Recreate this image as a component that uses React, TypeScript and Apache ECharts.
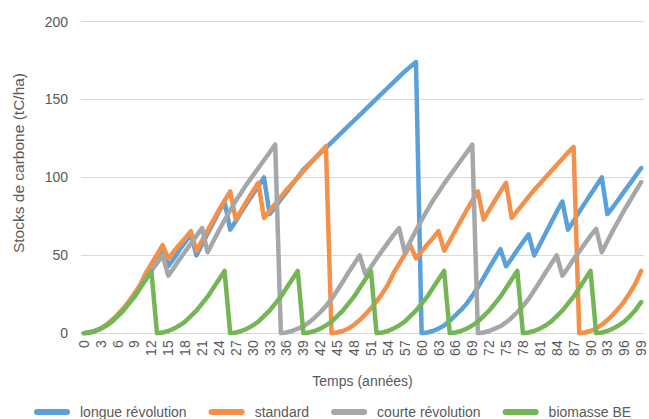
import React, { useEffect, useRef } from 'react';
import * as echarts from 'echarts';

const years: string[] = [
  '0','1','2','3','4','5','6','7','8','9','10','11','12','13','14','15','16','17','18','19',
  '20','21','22','23','24','25','26','27','28','29','30','31','32','33','34','35','36','37','38','39',
  '40','41','42','43','44','45','46','47','48','49','50','51','52','53','54','55','56','57','58','59',
  '60','61','62','63','64','65','66','67','68','69','70','71','72','73','74','75','76','77','78','79',
  '80','81','82','83','84','85','86','87','88','89','90','91','92','93','94','95','96','97','98','99',
];

const seriesNames = ['longue révolution', 'standard', 'courte révolution', 'biomasse BE'];
const yTitle = 'Stocks de carbone (tC/ha)';
const xTitle = 'Temps (années)';

const longueRevolution: number[] = [
  0, 0.5, 1.5, 3, 5, 8, 11.5, 15, 19.5, 24.5, 30, 36, 42, 48, 54,
  43, 48, 53.5, 58.5, 63.5,
  50, 57, 64, 71, 78, 84.5,
  66.5, 72, 78, 83.5, 89, 94.5, 100,
  76.5, 81, 86, 90.5, 95.5, 100, 105, 108.5, 112, 115.5, 119,
  122.5, 126, 129.5, 133, 136.5, 140, 143.5, 147, 150.5, 154, 157.5, 161, 164.5, 168, 171, 174,
  0, 0.5, 1.5, 3, 5, 8, 11.5, 15, 19, 24, 29.5, 35.5, 42, 48, 54,
  43, 48, 53.5, 58.5, 63.5,
  50, 57, 64, 71, 78, 84.5,
  66.5, 72, 78, 83.5, 89, 94.5, 100,
  76.5, 81, 86, 91, 96, 101, 106,
];

const standard: number[] = [
  0, 0.5, 1.5, 3, 5.5, 8.5, 12, 16, 20.5, 25.5, 31, 38.5, 44.5, 50.5, 56.5,
  48, 52.5, 57, 61, 65.5,
  53, 59.5, 66, 72.5, 79, 85, 91,
  73, 79, 85, 91, 96.5,
  74, 78.5, 83, 87.5, 92, 96, 100, 104, 108, 112, 116, 120,
  0, 0.5, 1.5, 3, 5.5, 8.5, 12, 16, 20.5, 25.5, 31, 38.5, 44.5, 50.5, 56.5,
  48, 52.5, 57, 61, 65.5,
  53, 59.5, 66, 72.5, 79, 85, 91,
  73, 79, 85, 91, 96.5,
  74, 78.5, 83, 87.5, 92, 96, 100, 104, 108, 112, 116, 119.5,
  0, 0.5, 1.5, 3, 5.5, 8.5, 12, 16, 20.5, 26, 32, 40,
];

const courteRevolution: number[] = [
  0, 0.5, 1.5, 3, 5, 7.5, 11, 14.5, 19, 23.5, 29, 34.5, 40, 45, 50,
  37, 42, 47.5, 52.5, 57.5, 62.5, 67.5,
  52, 59, 66, 72.5, 79, 85, 90.5, 96, 101, 106, 111, 116, 121,
  0, 0.5, 1.5, 3, 4.5, 7, 10, 13.5, 17.5, 22, 27.5, 33, 39, 44.5, 50,
  38, 42.5, 48, 53, 58, 63, 67.5,
  52, 59, 66, 72.5, 79, 85, 90.5, 96, 101, 106, 111, 116, 121,
  0, 0.5, 1.5, 3, 4.5, 7, 10, 13.5, 17.5, 22, 27.5, 33, 39, 44.5, 50,
  37, 42, 47.5, 52.5, 57.5, 62.5, 67,
  52, 59, 66, 72.5, 79, 85, 91, 97,
];

const biomasseBE: number[] = [
  0, 0.5, 1.5, 3, 5, 7.5, 11, 14.5, 19, 23.5, 29, 34.5, 40,
  0, 0.5, 1.5, 3, 5, 7.5, 11, 14.5, 19, 23.5, 29, 34.5, 40,
  0, 0.5, 1.5, 3, 5, 7.5, 11, 14.5, 19, 23.5, 29, 34.5, 40,
  0, 0.5, 1.5, 3, 5, 7.5, 11, 14.5, 19, 23.5, 29, 34.5, 40,
  0, 0.5, 1.5, 3, 5, 7.5, 11, 14.5, 19, 23.5, 29, 34.5, 40,
  0, 0.5, 1.5, 3, 5, 7.5, 11, 14.5, 19, 23.5, 29, 34.5, 40,
  0, 0.5, 1.5, 3, 5, 7.5, 11, 14.5, 19, 23.5, 29, 34.5, 40,
  0, 0.5, 1.5, 3, 5, 7.5, 11, 15, 20,
];

const colors = ['#5BA0D8', '#F5904A', '#A5A7A9', '#74B555'];
const FONT = '"Liberation Sans", Arial, sans-serif';
const CAPSULE = 'path://M3,0 L33,0 A3,3 0 0 1 33,6 L3,6 A3,3 0 0 1 3,0 Z';

export default function App() {
  const ref = useRef<HTMLDivElement>(null);

  useEffect(() => {
    if (!ref.current) return;
    const chart = echarts.init(ref.current, null, { renderer: 'svg' });
    const values = [longueRevolution, standard, courteRevolution, biomasseBE];
    chart.setOption({
      animation: false,
      backgroundColor: '#ffffff',
      color: colors,
      textStyle: { fontFamily: FONT },
      grid: { left: 81, right: 5, top: 21.5, bottom: 85.7, containLabel: false },
      graphic: [
        {
          type: 'text',
          x: 18,
          y: 163,
          rotation: Math.PI / 2,
          style: {
            text: yTitle,
            fontSize: 15.5,
            fontFamily: FONT,
            fill: '#595959',
            align: 'center',
            verticalAlign: 'middle',
          },
        },
      ],
      legend: {
        data: seriesNames,
        left: 29,
        top: 400,
        icon: CAPSULE,
        itemWidth: 36,
        itemHeight: 6,
        itemGap: 22,
        textStyle: { fontSize: 14, color: '#595959', fontFamily: FONT, padding: [0, 0, 0, 5] },
      },
      xAxis: {
        type: 'category',
        data: years,
        boundaryGap: true,
        name: xTitle,
        nameLocation: 'middle',
        nameGap: 41,
        nameTextStyle: { fontSize: 14, color: '#595959', fontFamily: FONT },
        axisLine: { show: true, lineStyle: { color: '#d9d9d9', width: 1 } },
        axisTick: { show: false },
        axisLabel: {
          interval: 2,
          rotate: 90,
          fontSize: 14,
          color: '#595959',
          margin: 7,
          fontFamily: FONT,
        },
        splitLine: { show: false },
      },
      yAxis: {
        type: 'value',
        min: 0,
        max: 200,
        interval: 50,
        axisLine: { show: false },
        axisTick: { show: false },
        axisLabel: { fontSize: 14, color: '#595959', margin: 13, fontFamily: FONT },
        splitLine: { show: true, lineStyle: { color: '#d9d9d9', width: 1 } },
      },
      series: seriesNames.map((name, i) => ({
        name,
        type: 'line',
        data: values[i],
        showSymbol: false,
        symbol: 'none',
        smooth: false,
        lineStyle: { width: 4.5, color: colors[i], join: 'round', cap: 'round' },
        itemStyle: { color: colors[i] },
        z: 2 + i,
      })),
    });
    return () => chart.dispose();
  }, []);

  return (
    <div
      ref={ref}
      style={{ position: 'fixed', left: 0, top: 0, width: 649, height: 419, background: '#fff' }}
    />
  );
}
